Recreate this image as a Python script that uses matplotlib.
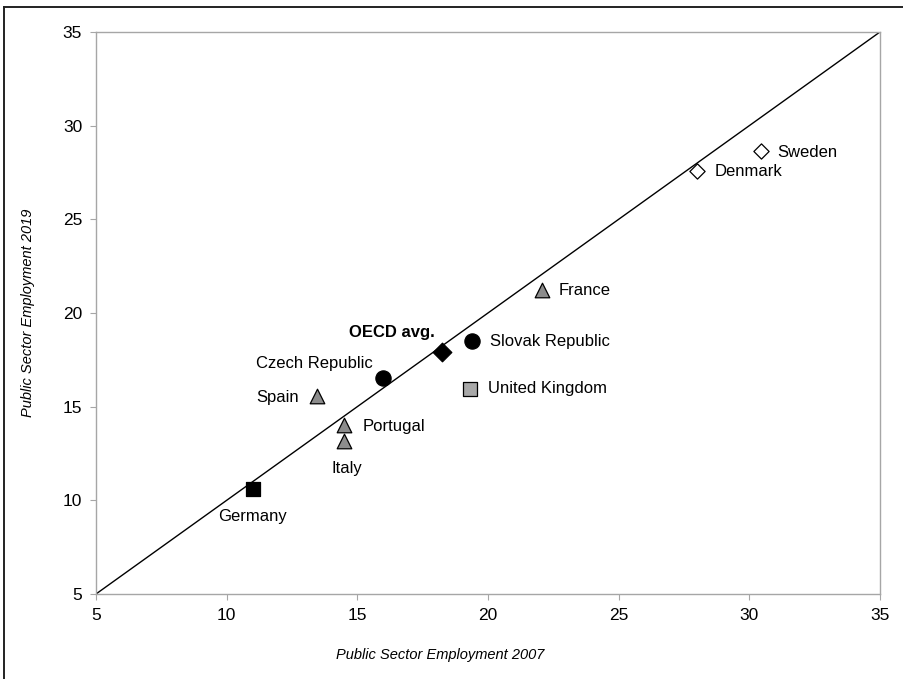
import matplotlib
matplotlib.use("Agg")
import matplotlib.pyplot as plt
from matplotlib.lines import Line2D

plt.rcParams['font.family'] = ['Liberation Sans', 'DejaVu Sans']

countries = ["Sweden", "Denmark", "France", "Slovak Republic", "OECD avg.",
             "Czech Republic", "United Kingdom", "Spain", "Portugal", "Italy", "Germany"]
emp_2007 = [30.45, 28.0, 22.05, 19.4, 18.25, 16.0, 19.3, 13.45, 14.5, 14.5, 11.0]
emp_2019 = [28.65, 27.6, 21.25, 18.5, 17.9, 16.55, 15.95, 15.55, 14.0, 13.15, 10.6]
markers = ["D", "D", "^", "o", "D", "o", "s", "^", "^", "^", "s"]
facecolors = ["white", "white", "#8c8c8c", "black", "black", "black", "#a8a8a8",
              "#8c8c8c", "#8c8c8c", "#8c8c8c", "black"]
sizes = [60, 60, 110, 120, 90, 120, 110, 110, 110, 110, 110]
# label offsets in points and alignment
label_pos = {
    "Sweden": (12, -1, "left", "center"),
    "Denmark": (13, -1, "left", "center"),
    "France": (12, -1, "left", "center"),
    "Slovak Republic": (13, 0, "left", "center"),
    "OECD avg.": (-5.5, 9, "right", "bottom"),
    "Czech Republic": (-8, 5, "right", "bottom"),
    "United Kingdom": (13, 0, "left", "center"),
    "Spain": (-13, -1, "right", "center"),
    "Portugal": (13, -1, "left", "center"),
    "Italy": (2, -14, "center", "top"),
    "Germany": (0, -14, "center", "top"),
}

fig = plt.figure(figsize=(9.04, 6.79), dpi=100)
ax = fig.add_axes([0.1062, 0.1252, 0.8672, 0.8277])

ax.plot([5, 35], [5, 35], color="black", lw=1.0, zorder=1)

for c, x, y, m, fc, s in zip(countries, emp_2007, emp_2019, markers, facecolors, sizes):
    ax.scatter([x], [y], marker=m, s=s, facecolor=fc, edgecolor="black",
               linewidths=0.9, zorder=3)
    dx, dy, ha, va = label_pos[c]
    ax.annotate(c, (x, y), xytext=(dx, dy), textcoords="offset points",
                ha=ha, va=va, fontsize=12,
                fontweight="bold" if c == "OECD avg." else "normal")

ax.set_xlim(5, 35)
ax.set_ylim(5, 35)
ax.set_xticks(range(5, 36, 5))
ax.set_yticks(range(5, 36, 5))
for sp in ax.spines.values():
    sp.set_color("#a6a6a6")
    sp.set_linewidth(1.0)
ax.tick_params(axis="both", colors="#a6a6a6", labelcolor="black", labelsize=12.5, length=4)
ax.tick_params(axis="x", pad=6)
ax.tick_params(axis="y", pad=6)

fig.text(440 / 904, 1 - 655 / 679, "Public Sector Employment 2007", fontsize=10.5,
         style="italic", ha="center", va="center")
fig.text(28 / 904, 1 - 313 / 679, "Public Sector Employment 2019", fontsize=10.5,
         style="italic", ha="center", va="center", rotation=90)

# partial outer frame (top and left edges)
fig.add_artist(Line2D([4 / 904, 4 / 904], [0, 1 - 6.5 / 679], transform=fig.transFigure,
                      color="#222222", lw=1.4))
fig.add_artist(Line2D([4 / 904, 903 / 904], [1 - 6.5 / 679, 1 - 6.5 / 679],
                      transform=fig.transFigure, color="#222222", lw=1.4))

fig.savefig("out.png", dpi=100)
